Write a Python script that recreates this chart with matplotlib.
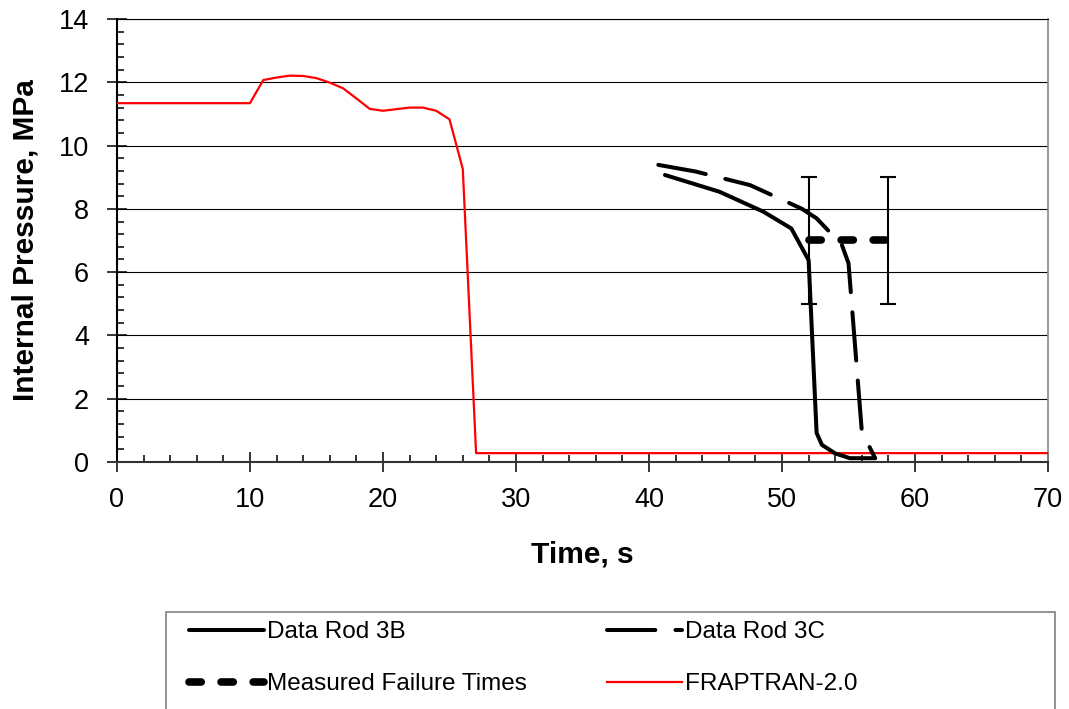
import matplotlib
matplotlib.use("Agg")
import matplotlib.pyplot as plt
from matplotlib.ticker import MultipleLocator
from matplotlib.patches import Rectangle

plt.rcParams['font.family'] = ['Liberation Sans', 'DejaVu Sans']

# FRAPTRAN-2.0 calculo
t_frap = [0, 10, 11, 12, 13, 14, 15, 16, 17, 18, 19, 20, 21, 22, 23, 24, 25, 26, 27, 70]
p_frap = [11.34, 11.34, 12.07, 12.15, 12.21, 12.20, 12.13, 11.99, 11.81, 11.49, 11.16,
          11.10, 11.15, 11.20, 11.20, 11.10, 10.83, 9.26, 0.28, 0.28]

# Datos varilla 3B
t_3b = [41.2, 45.3, 48.6, 50.7, 52.0, 52.6, 53.0, 54.0, 55.1, 57.0]
p_3b = [9.07, 8.54, 7.91, 7.38, 6.38, 0.92, 0.54, 0.27, 0.12, 0.12]

# Datos varilla 3C
t_3c = [40.7, 43.5, 47.6, 51.5, 52.6, 54.5, 55.0, 56.0, 57.0]
p_3c = [9.39, 9.18, 8.75, 8.0, 7.70, 6.86, 6.28, 0.96, 0.12]

# Tiempos de falla medidos
t_falla = [52, 58]
p_falla = [7, 7]
err_falla = [2, 2]

fig = plt.figure(figsize=(10.69, 7.09), dpi=100)
ax = fig.add_axes([0.1094, 0.3484, 0.871, 0.6248])

ax.grid(axis='y', color='black', linewidth=0.8)
ax.set_axisbelow(True)

l_frap, = ax.plot(t_frap, p_frap, color='#ff0000', linewidth=1.6, label='FRAPTRAN-2.0', zorder=3)
l_3b, = ax.plot(t_3b, p_3b, color='black', linewidth=2.9, label='Data Rod 3B',
                solid_joinstyle='round', solid_capstyle='round', zorder=4)
l_3c, = ax.plot(t_3c, p_3c, color='black', linewidth=2.9, dashes=(12, 5), label='Data Rod 3C',
                dash_capstyle='round', zorder=4)
ax.errorbar(t_falla, p_falla, yerr=err_falla, fmt='none', ecolor='black', elinewidth=1.5,
            capsize=6, capthick=1.5, zorder=5)
l_falla, = ax.plot(t_falla, p_falla, color='black', linewidth=5.5, dashes=(1.6, 2.6),
                   dash_capstyle='round', label='Measured Failure Times', zorder=5)

ax.set_xlim(0, 70)
ax.set_ylim(0, 14)
ax.xaxis.set_major_locator(MultipleLocator(10))
ax.xaxis.set_minor_locator(MultipleLocator(2))
ax.yaxis.set_major_locator(MultipleLocator(2))
ax.yaxis.set_minor_locator(MultipleLocator(0.4))

ax.tick_params(which='major', direction='inout', length=14, width=1.1, labelsize=19.5)
ax.tick_params(which='minor', direction='in', length=5, width=1.1)
ax.tick_params(axis='x', which='major', pad=11)
ax.tick_params(axis='y', which='major', pad=13)
ax.tick_params(top=False, right=False, which='both')

ax.spines['left'].set_color('black')
ax.spines['left'].set_linewidth(1.5)
ax.spines['bottom'].set_color('#333333')
ax.spines['bottom'].set_linewidth(1.5)
ax.spines['right'].set_color('#888888')
ax.spines['right'].set_linewidth(1.2)
ax.spines['top'].set_color('black')
ax.spines['top'].set_linewidth(0.8)

ax.set_xlabel('Time, s', fontsize=21.5, fontweight='bold', labelpad=20)
ax.set_ylabel('Internal Pressure, MPa', fontsize=21.5, fontweight='bold', labelpad=14)

# Leyenda: dos columnas colocadas a mano y un marco que se sale por abajo
fig.patches.append(Rectangle((166 / 1069, -0.05), (1055 - 166) / 1069, 0.05 + 1 - 612 / 709,
                             transform=fig.transFigure, fill=False, edgecolor='#808080',
                             linewidth=1.2))
opts = dict(loc='upper left', fontsize=17.5, handlelength=3.1, handletextpad=0.12,
            labelspacing=1.25, borderpad=0, borderaxespad=0, frameon=False)
fig.legend([l_3b, l_falla], ['Data Rod 3B', 'Measured Failure Times'],
           bbox_to_anchor=(189 / 1069, 1 - 621 / 709), **opts)
fig.legend([l_3c, l_frap], ['Data Rod 3C', 'FRAPTRAN-2.0'],
           bbox_to_anchor=(607 / 1069, 1 - 621 / 709), **opts)

fig.savefig('out.png', dpi=100)
